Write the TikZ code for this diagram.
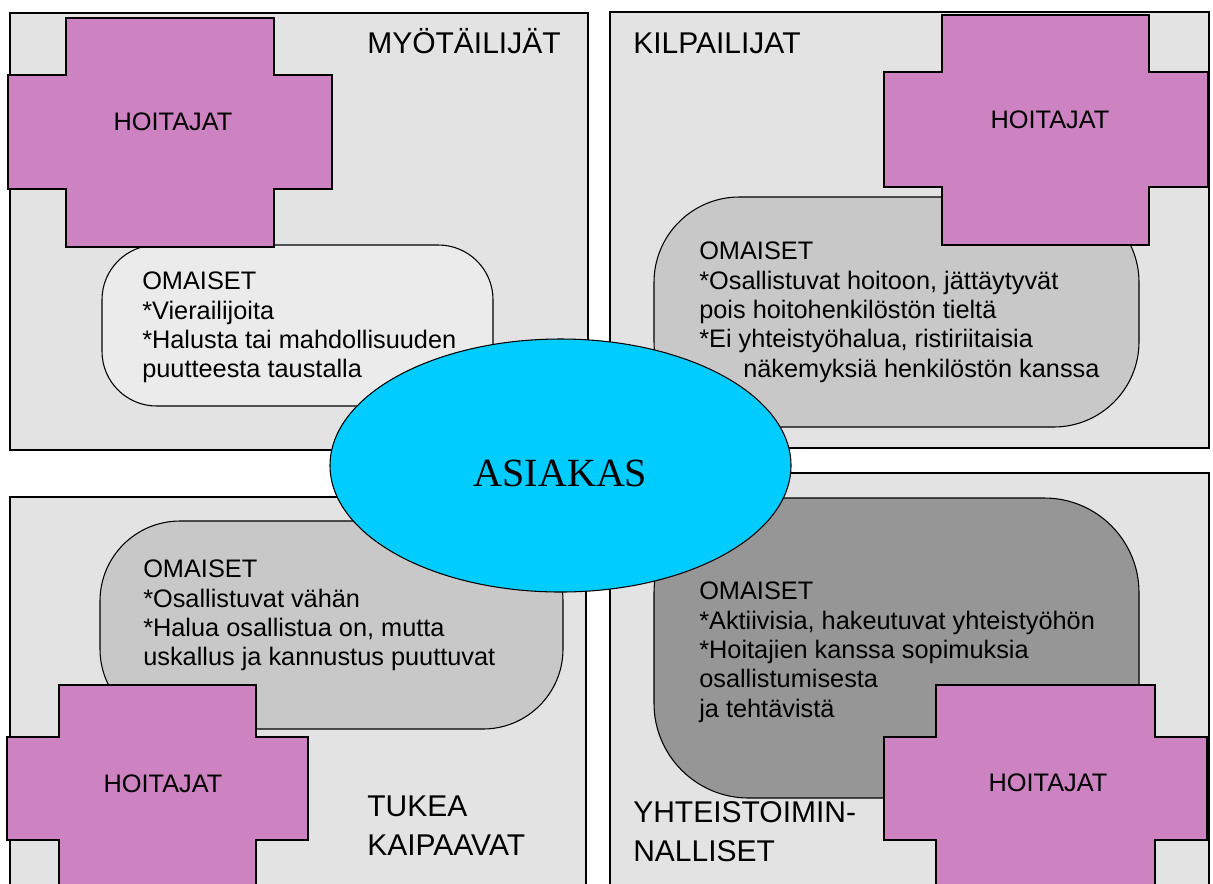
\documentclass[tikz,border=0pt]{standalone}
\usepackage{fontspec}
\setmainfont{Liberation Sans}
\newfontfamily\asiakasfont{Liberation Serif}
\usepackage{tikz}
\usetikzlibrary{shapes.geometric}
\definecolor{qgray}{HTML}{E3E3E3}
\definecolor{qlight}{HTML}{EBEBEB}
\definecolor{qmid}{HTML}{C8C8C8}
\definecolor{qdark}{HTML}{969696}
\definecolor{qpink}{HTML}{CD82C1}
\definecolor{qcyan}{HTML}{00CCFF}
\tikzset{
  panel/.style={draw=black,fill=qgray,line width=0.8pt},
  blob/.style={draw=black,line width=0.8pt},
  cross/.style={draw=black,fill=qpink,line width=0.8pt},
  title/.style={font=\fontsize{22.5}{29}\selectfont,inner sep=0pt,align=left},
  bodytext/.style={font=\fontsize{19}{22}\selectfont,inner sep=0pt,align=left,anchor=north west},
  hoittext/.style={font=\fontsize{19}{22}\selectfont,inner sep=0pt,anchor=base},
  asiakas/.style={ellipse,draw=black,fill=qcyan,line width=0.8pt,inner sep=0pt,
    minimum width=345.75pt,minimum height=189.75pt,
    font=\asiakasfont\fontsize{30}{36}\selectfont,text height=32pt,text depth=0pt},
}

\begin{document}
\begin{tikzpicture}[x=0.75pt,y=-0.75pt]
  \useasboundingbox (0,0) rectangle (1213,883);
  % four quadrants
  \draw[panel] (10,13) rectangle (588,450);
  \draw[panel] (610,12) rectangle (1209,448);
  \draw[panel] (10,497) rectangle (586,895);
  \draw[panel] (610,473) rectangle (1209,895);
  % omaiset
  \draw[blob,fill=qlight,rounded corners=41pt] (102,245) rectangle (493,406);
  \draw[blob,fill=qmid,rounded corners=64pt] (654,197) rectangle (1139,427);
  \draw[blob,fill=qmid,rounded corners=60pt] (100,521) rectangle (563,729);
  \draw[blob,fill=qdark,rounded corners=71pt] (654,498) rectangle (1139,798);
  % hoitajat
  \foreach \xa/\xb/\xc/\xd/\ya/\yb/\yc/\yd/\tx/\ty/\n in {
      8/66/274/332/18/75/189/247/173/130/1,
      884/942/1149/1208/15/72/187/245/1050/128/2,
      7/59/256/308/685/737/840/892/163/792/3,
      884/936/1155/1207/685/737/840/892/1048/791/4} {
    \draw[cross] (\xa,\yb) -- (\xb,\yb) -- (\xb,\ya) -- (\xc,\ya) -- (\xc,\yb) -- (\xd,\yb)
      -- (\xd,\yc) -- (\xc,\yc) -- (\xc,\yd) -- (\xb,\yd) -- (\xb,\yc) -- (\xa,\yc) -- cycle;
    \node[hoittext] (hoit\n) at (\tx,\ty) {HOITAJAT};
  }
  % quadrant titles
  \node[title,anchor=base west] (myotailijat) at (367,53) {MYÖTÄILIJÄT};
  \node[title,anchor=base west] (kilpailijat) at (633,53) {KILPAILIJAT};
  \node[title,anchor=north west] (tukea) at (367,795.5) {TUKEA\\KAIPAAVAT};
  \node[title,anchor=north west] (yhteis) at (633,801.5) {YHTEISTOIMIN-\\NALLISET};
  % omaiset texts
  \node[bodytext] (om1) at (142,272) {OMAISET\\*Vierailijoita\\*Halusta tai mahdollisuuden\\puutteesta taustalla};
  \node[bodytext] (om2) at (699,242) {OMAISET\\*Osallistuvat hoitoon, jättäytyvät\\pois hoitohenkilöstön tieltä\\*Ei yhteistyöhalua, ristiriitaisia\\\hspace*{33pt}näkemyksiä henkilöstön kanssa};
  \node[bodytext] (om3) at (143,560) {OMAISET\\*Osallistuvat vähän\\*Halua osallistua on, mutta\\uskallus ja kannustus puuttuvat};
  \node[bodytext] (om4) at (699,582) {OMAISET\\*Aktiivisia, hakeutuvat yhteistyöhön\\*Hoitajien kanssa sopimuksia\\osallistumisesta\\ja tehtävistä};
  % client in the middle
  \node[asiakas] (asiakas) at (560.5,465.5) {ASIAKAS};
\end{tikzpicture}
\end{document}
